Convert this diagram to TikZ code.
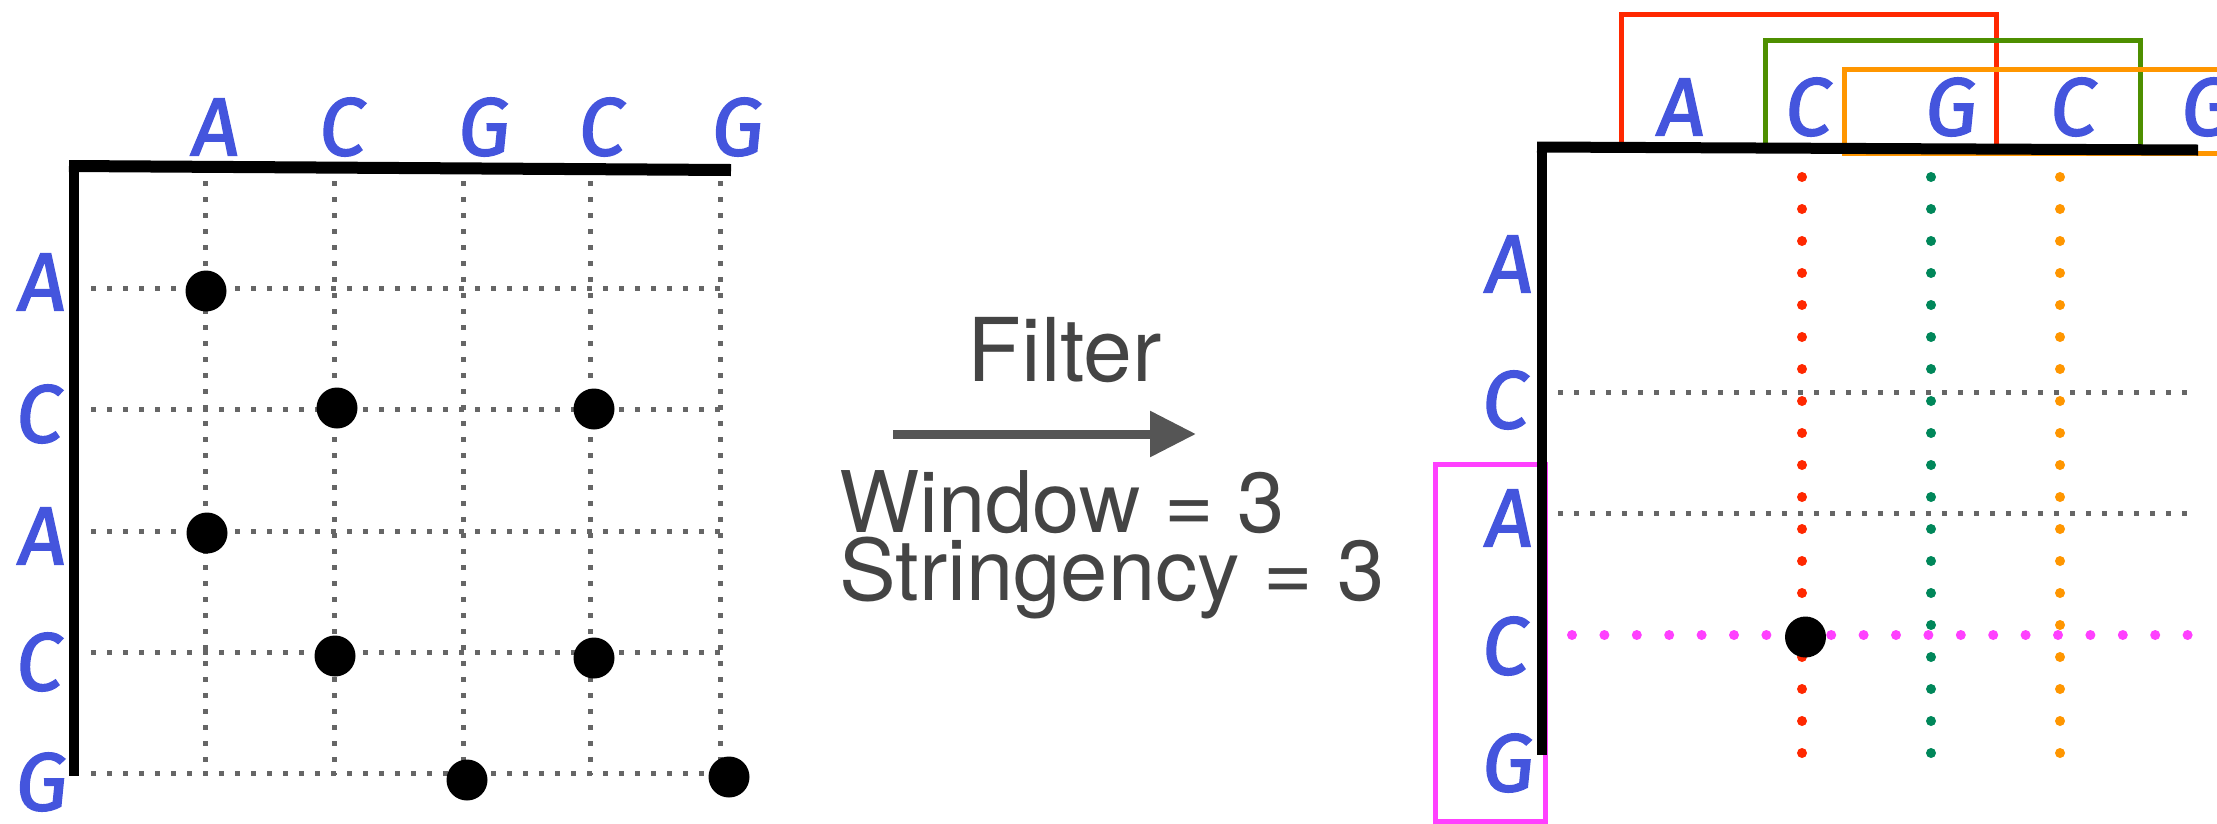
\documentclass[tikz,border=0pt]{standalone}
\usepackage{fontspec}
\setmainfont{TeX Gyre Heros}
\newfontfamily\handfont{Fira Sans}[FakeSlant=0.1,FakeBold=2]
\usetikzlibrary{arrows.meta}
\definecolor{handblue}{RGB}{68,85,221}
\definecolor{txtgray}{RGB}{68,68,68}
\definecolor{arrgray}{RGB}{85,85,85}
\definecolor{dotgray}{RGB}{102,102,102}
\definecolor{wred}{RGB}{255,40,0}
\definecolor{wgreen}{RGB}{78,143,0}
\definecolor{worange}{RGB}{255,150,0}
\definecolor{wmagenta}{RGB}{255,64,255}
\definecolor{dgreen}{RGB}{0,135,90}
\begin{document}
\begin{tikzpicture}[x=1pt,y=-1pt,
  hand/.style={font=\handfont\fontsize{82}{82}\selectfont, text=handblue, inner sep=0pt},
  axisline/.style={line width=11pt, black},
  griddots/.style={line width=5pt, draw=dotgray, dash pattern=on 5pt off 11pt},
  rounddots/.style={line width=10pt, line cap=round, dash pattern=on 0pt off 32pt},
  hitdot/.style={circle, fill=black, inner sep=0pt, minimum size=41pt},
  winbox/.style={line width=5pt},
  bigtxt/.style={font=\fontsize{85}{85}\selectfont, text=txtgray, inner sep=0pt}
]
\useasboundingbox (0,0) rectangle (2217,823);
\clip (0,0) rectangle (2217,823);

% ---------------- left panel ----------------
\foreach \x in {205.5,334,463,590.5,720}
  \draw[griddots] (\x,181) -- (\x,775);
\foreach \y in {288,409.5,531,652,773}
  \draw[griddots] (91,\y) -- (720,\y);

\draw[axisline, line width=10pt] (74,161) -- (74,776);
\draw[axisline, line width=12pt] (69,166) -- (731,170);

\node[hand] (lcA1) at (213.5,127) {A};
\node[hand] (lcC1) at (340,127) {C};
\node[hand] (lcG1) at (482,127) {G};
\node[hand] (lcC2) at (599.5,127) {C};
\node[hand] (lcG2) at (735.5,127) {G};

\node[hand] (lrA1) at (40,282) {A};
\node[hand] (lrC1) at (37,414) {C};
\node[hand] (lrA2) at (40,536) {A};
\node[hand] (lrC2) at (37,662) {C};
\node[hand] (lrG1) at (39.5,782) {G};

\node[hitdot] (d1) at (206,291) {};
\node[hitdot] (d2) at (337,408) {};
\node[hitdot] (d3) at (594,409) {};
\node[hitdot] (d4) at (207,533) {};
\node[hitdot] (d5) at (335,656) {};
\node[hitdot] (d6) at (594,658) {};
\node[hitdot] (d7) at (467,780) {};
\node[hitdot] (d8) at (729,777) {};

% ---------------- middle ----------------
\node[bigtxt, font=\fontsize{88}{88}\selectfont, anchor=base] (filter) at (1065,381) {Filter};
\coordinate (arrS) at (893,434);
\coordinate (arrE) at (1196,434);
\draw[arrgray, line width=9pt, -{Triangle[length=46pt,width=44pt]}] (arrS) -- (arrE);
\node[bigtxt, anchor=base west] (win) at (839,532) {Window = 3};
\node[bigtxt, anchor=base west] (str) at (839,600) {Stringency = 3};

% ---------------- right panel ----------------
\draw[winbox, wred] (1621,14) rectangle (1996,146);
\draw[winbox, wgreen] (1765,40) rectangle (2140,146);
\draw[winbox, worange] (1844.5,69) rectangle (2245,153);
\draw[winbox, wmagenta] (1435,464) rectangle (1545,821);

\foreach \y in {392,513}
  \draw[griddots] (1558,\y) -- (2190,\y);

\draw[rounddots, wred] (1802,177) -- (1802,754);
\draw[rounddots, dgreen] (1931,177) -- (1931,754);
\draw[rounddots, worange] (2060,177) -- (2060,754);
\draw[rounddots, wmagenta, dash pattern=on 0pt off 32.4pt] (1572,635) -- (2189,635);

\draw[axisline, line width=10pt] (1542,142) -- (1542,755);
\draw[axisline, line width=11pt] (1537,147) -- (2198,150);

\node[hand] (rcA1) at (1679,107) {A};
\node[hand] (rcC1) at (1806,107) {C};
\node[hand] (rcG1) at (1949,107) {G};
\node[hand] (rcC2) at (2071,107) {C};
\node[hand] (rcG2) at (2205,107) {G};

\node[hand] (rrA1) at (1507,264) {A};
\node[hand] (rrC1) at (1503,400) {C};
\node[hand] (rrA2) at (1507,518) {A};
\node[hand] (rrC2) at (1503,646) {C};
\node[hand] (rrG1) at (1506,763) {G};

\node[hitdot] (rd) at (1805.5,637) {};
\end{tikzpicture}
\end{document}
